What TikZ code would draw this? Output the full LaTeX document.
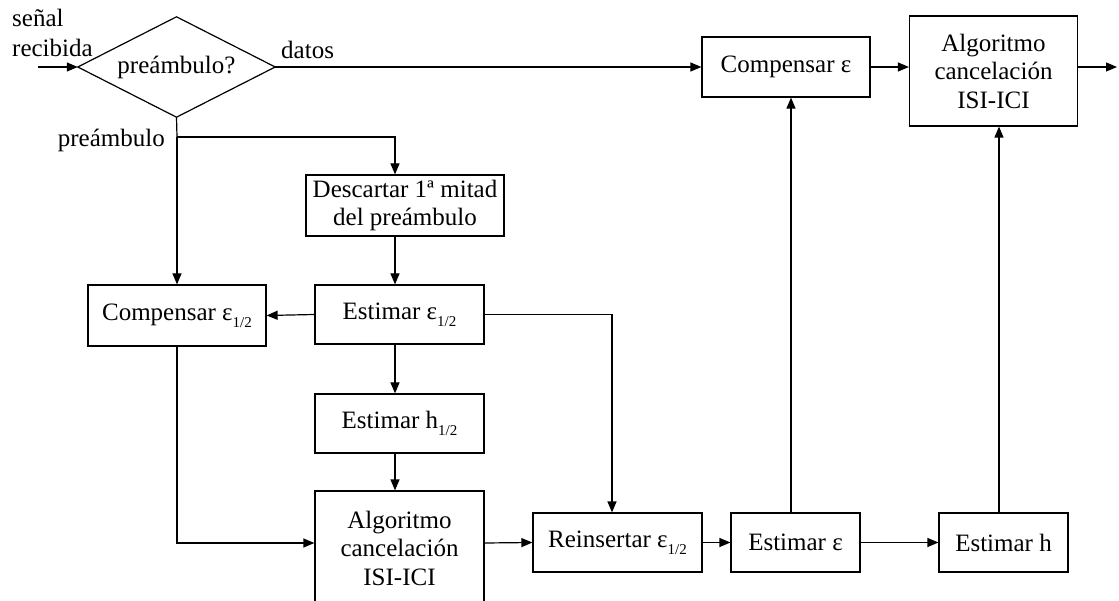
\documentclass[tikz,border=0pt]{standalone}
\usepackage{fontspec}
\setmainfont{Liberation Serif}
\usetikzlibrary{arrows.meta}
% lowered "1/2" index after epsilon and h
\newcommand{\halfidx}{\raisebox{-7pt}{\fontsize{15}{15}\selectfont 1/2}}

\begin{document}
\begin{tikzpicture}[x=1pt,y=-1pt,
  every node/.style={font=\fontsize{25}{28.5}\selectfont},
  blk/.style={draw, line width=1.2pt, inner sep=0pt, align=center},
  lbl/.style={inner sep=0pt},
  ln/.style={line width=1.2pt},
  arr/.style={line width=1.2pt, -{Triangle[length=11pt,width=9pt]}}]
\useasboundingbox (0,0) rectangle (1119,601);
\clip (0,0) rectangle (1119,601);

% decision: rhombus through the mid-points of the node's border
\node[inner sep=0pt, minimum width=197pt, minimum height=100pt] (dec) at (176.5,67) {preámbulo?};
\draw[ln, line join=miter] (dec.west) -- (dec.north) -- (dec.east) -- (dec.south) -- cycle;

% blocks
\node[blk, minimum width=168pt, minimum height=60pt]  (ceps)  at (786,67)      {Compensar ε};
\node[blk, minimum width=168pt, minimum height=110pt] (alg1)  at (993.5,71)    {Algoritmo\\cancelación\\ISI-ICI};
\node[blk, minimum width=198pt, minimum height=61pt]  (desc)  at (405,205.5)   {Descartar 1ª mitad\\del preámbulo};
\node[blk, minimum width=178pt, minimum height=61pt]  (ceps2) at (177,315.5)   {Compensar ε\halfidx};
\node[blk, minimum width=169pt, minimum height=59pt]  (eeps2) at (399.5,314.5) {Estimar ε\halfidx};
\node[blk, minimum width=169pt, minimum height=59pt]  (eh2)   at (399.5,423.5) {Estimar h\halfidx};
\node[blk, minimum width=169pt, minimum height=114pt] (alg2)  at (399.5,548)   {Algoritmo\\cancelación\\ISI-ICI};
\node[blk, minimum width=169pt, minimum height=59pt]  (reins) at (617.5,542.5) {Reinsertar ε\halfidx};
\node[blk, minimum width=129pt, minimum height=59pt]  (eeps)  at (795.5,542.5) {Estimar ε};
\node[blk, minimum width=129pt, minimum height=59pt]  (eh)    at (1003.5,542.5){Estimar h};

% labels
\node[lbl, anchor=base west] (lin1) at (12,27) {señal};
\node[lbl, anchor=base west] (lin2) at (12,57) {recibida};
\node[lbl, anchor=base west] (ldat) at (281,59) {datos};
\node[lbl, anchor=base east] (lpre) at (165,147) {preámbulo};

% junction points
\coordinate (src) at (38,67);
\coordinate (out) at (1117,67);
\coordinate (br)  at (177,137);
\coordinate (j1)  at (395,137);
\coordinate (j2)  at (612,314.5);
\coordinate (row) at (0,543);
\coordinate (upe) at (791,0);
\coordinate (uph) at (999,0);

% connectors
\draw[arr] (src) -- (dec.west);
\draw[arr] (dec.east) -- (ceps.west);
\draw[arr] (ceps.east) -- (ceps.east -| alg1.west);
\draw[arr] (ceps.east -| alg1.east) -- (out);
\draw[ln]  (dec.south) -- (br);
\draw[arr] (br) -- (j1) -- (j1 |- desc.north);
\draw[arr] (br) -- (ceps2.north);
\draw[arr] (j1 |- desc.south) -- (j1 |- eeps2.north);
\draw[arr] (eeps2.west) -- (ceps2.east);
\draw[arr] (eeps2.east) -- (j2) -- (j2 |- reins.north);
\draw[arr] (j1 |- eeps2.south) -- (j1 |- eh2.north);
\draw[arr] (j1 |- eh2.south) -- (j1 |- alg2.north);
\draw[arr] (ceps2.south) |- (row -| alg2.west);
\draw[arr] (row -| alg2.east) -- (reins.west);
\draw[arr] (reins.east) -- (eeps.west);
\draw[arr] (upe |- eeps.north) -- (upe |- ceps.south);
\draw[arr] (eeps.east) -- (eh.west);
\draw[arr] (uph |- eh.north) -- (uph |- alg1.south);
\end{tikzpicture}
\end{document}
